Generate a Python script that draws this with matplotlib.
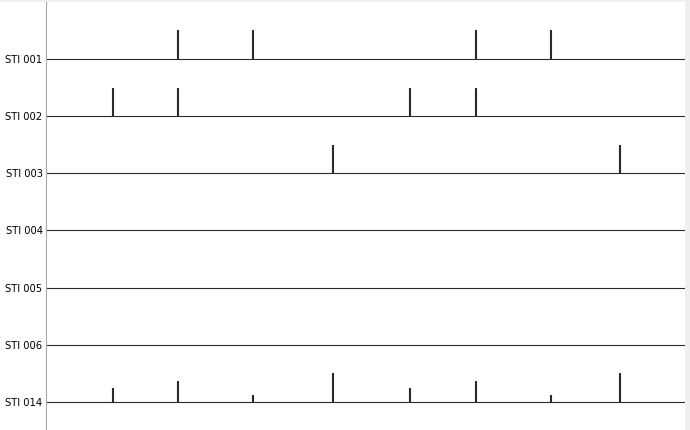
import numpy as np
import matplotlib
matplotlib.use("Agg")
import matplotlib.pyplot as plt
from matplotlib.patches import Rectangle

# channel names (top to bottom)
ch_names = ["STI 001", "STI 002", "STI 003", "STI 004", "STI 005", "STI 006", "STI 014"]

# event onsets (s) and the event code written on STI 014
event_onsets = [2.07, 4.10, 6.45, 8.95, 11.36, 13.43, 15.78, 17.93]
event_codes = [2, 3, 1, 4, 2, 3, 1, 4]

# which bit channel each code bit maps to
bit_channels = {1: "STI 001", 2: "STI 002", 4: "STI 003"}

t_max = 20.0
pulse_width = 0.035
scale = 0.5  # pulse height in channel offset units


def pulse_trace(onsets, amps):
    xs, ys = [0.0], [0.0]
    for t0, a in zip(onsets, amps):
        xs += [t0, t0, t0 + pulse_width, t0 + pulse_width]
        ys += [0.0, a, a, 0.0]
    xs.append(t_max)
    ys.append(0.0)
    return np.array(xs), np.array(ys)


fig = plt.figure(figsize=(6.9, 4.3), dpi=100)
fig.patch.set_facecolor("white")
# light grey frame strips on the right and top edge
fig.patches.append(Rectangle((685 / 690, 0), 5 / 690, 1, transform=fig.transFigure,
                             facecolor="#efefef", edgecolor="none", zorder=0))
fig.patches.append(Rectangle((0, 428 / 430), 1, 2 / 430, transform=fig.transFigure,
                             facecolor="#efefef", edgecolor="none", zorder=0))
ax = fig.add_axes([46 / 690, 0.0, 639 / 690, 428 / 430])
ax.set_facecolor("white")

for i, name in enumerate(ch_names):
    if name == "STI 014":
        on = event_onsets
        amp = [c / max(event_codes) for c in event_codes]
    else:
        bit = [b for b, n in bit_channels.items() if n == name]
        on, amp = [], []
        if bit:
            for t0, c in zip(event_onsets, event_codes):
                if c & bit[0]:
                    on.append(t0)
                    amp.append(1.0)
    x, y = pulse_trace(on, amp)
    ax.plot(x, i - y * scale, color="#2a2a2a", linewidth=0.8)

ax.set_xlim(0, t_max)
ax.set_ylim(6 + 28 / 57.2, -57 / 57.2)
ax.set_yticks(range(len(ch_names)))
ax.set_yticklabels(ch_names, fontsize=7.2)
ax.tick_params(axis="y", length=0, pad=2.5)
ax.set_xticks([])
for side in ["top", "right", "bottom"]:
    ax.spines[side].set_visible(False)
ax.spines["left"].set_color("#aaaaaa")

fig.savefig("out.png", dpi=100, facecolor=fig.get_facecolor())
